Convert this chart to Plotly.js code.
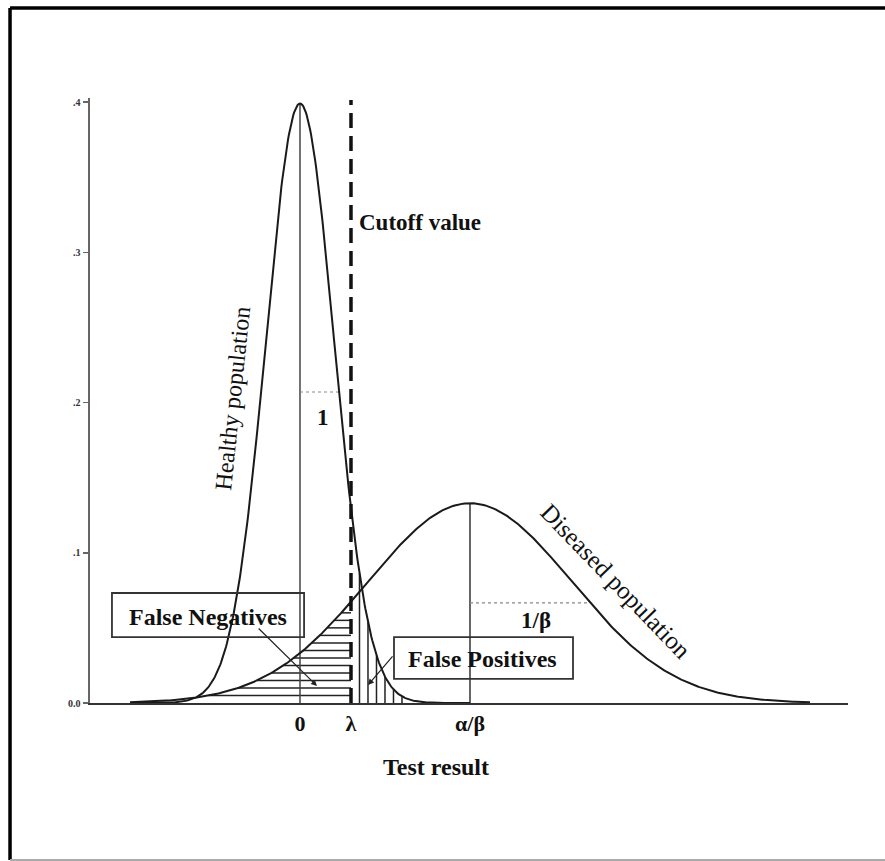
<!DOCTYPE html>
<html>
<head>
<meta charset="utf-8">
<script src="https://cdn.plot.ly/plotly-3.0.1.min.js"></script>
<style>
  html, body { margin: 0; padding: 0; background: #fff; }
  #chart { width: 885px; height: 861px; }
</style>
</head>
<body>
<div id="chart"></div>
<script>
// Two Gaussian test-result distributions split by a cutoff value
const healthyMean = 0;
const healthySd = 1;
const diseasedMean = 5;      // alpha / beta
const diseasedSd = 3;        // 1 / beta
const cutoff = 1.5;          // lambda

const healthyRange = [-5, 5];
const diseasedRange = [-5, 15];

const xTickVals = [0, 1.5, 5];
const xTickText = ['0', 'λ', 'α/β'];
const yTickVals = [0, 0.1, 0.2, 0.3, 0.4];
const yTickText = ['0.0', '.1', '.2', '.3', '.4'];

// hatching: horizontal rungs (false negatives) and vertical rungs (false positives)
const fnLevels = [0.005, 0.010, 0.015, 0.020, 0.025, 0.030, 0.035, 0.040, 0.045, 0.050, 0.055, 0.060, 0.065];
const fpPositions = [1.75, 2.0, 2.25, 2.5, 2.75, 3.0];

// width markers
const healthyMarkLevel = 0.207;
const diseasedMarkLevel = 0.0667;
const cutoffTop = 0.4013;

const SQ2PI = Math.sqrt(2 * Math.PI);
function pdf(x, m, s) { return Math.exp(-0.5 * ((x - m) / s) ** 2) / (s * SQ2PI); }
function offset(y, s) { return s * Math.sqrt(-2 * Math.log(y * s * SQ2PI)); }

function curve(m, s, r) {
  const xs = [], ys = [];
  for (let i = 0; i <= 400; i++) {
    const x = r[0] + (r[1] - r[0]) * i / 400;
    xs.push(x); ys.push(pdf(x, m, s));
  }
  return { xs, ys };
}

const h = curve(healthyMean, healthySd, healthyRange);
const d = curve(diseasedMean, diseasedSd, diseasedRange);

const ink = '#1a1a1a';

const fnX = [], fnY = [];
fnLevels.forEach(y => {
  fnX.push(diseasedMean - offset(y, diseasedSd), cutoff, null);
  fnY.push(y, y, null);
});
const fpX = [], fpY = [];
fpPositions.forEach(x => {
  fpX.push(x, x, null);
  fpY.push(0, pdf(x, healthyMean, healthySd), null);
});

const healthyPeak = pdf(healthyMean, healthyMean, healthySd);
const diseasedPeak = pdf(diseasedMean, diseasedMean, diseasedSd);

const traces = [
  { x: fnX, y: fnY, mode: 'lines', line: { color: '#222', width: 1.5 } },
  { x: fpX, y: fpY, mode: 'lines', line: { color: '#222', width: 1.5 } },
  { x: [healthyMean, healthyMean], y: [0, healthyPeak], mode: 'lines', line: { color: '#444', width: 1.5 } },
  { x: [diseasedMean, diseasedMean], y: [0, diseasedPeak], mode: 'lines', line: { color: '#333', width: 1.5 } },
  { x: [healthyMean, healthyMean + offset(healthyMarkLevel, healthySd)], y: [healthyMarkLevel, healthyMarkLevel],
    mode: 'lines', line: { color: '#888', width: 1.2, dash: 'dot' } },
  { x: [diseasedMean, diseasedMean + offset(diseasedMarkLevel, diseasedSd)], y: [diseasedMarkLevel, diseasedMarkLevel],
    mode: 'lines', line: { color: '#888', width: 1.2, dash: 'dot' } },
  { x: h.xs, y: h.ys, mode: 'lines', line: { color: ink, width: 2 } },
  { x: d.xs, y: d.ys, mode: 'lines', line: { color: ink, width: 2 } },
  { x: [cutoff, cutoff], y: [0, cutoffTop], mode: 'lines', line: { color: '#111', width: 3.5, dash: '15px,8px' } }
];

const serif = 'Liberation Serif, Times New Roman, serif';

function label(text, x, y, size, bold, extra) {
  return Object.assign({
    text: bold ? '<b>' + text + '</b>' : text,
    x: x, y: y, xref: 'x', yref: 'y', showarrow: false,
    font: { family: serif, size: size, color: '#111' }
  }, extra || {});
}

const annotations = [
  label('Cutoff value', 1.68, 0.3195, 23, true, { xanchor: 'left' }),
  label('Healthy population', -1.98, 0.203, 24, false, { textangle: -84 }),
  label('Diseased population', 9.3, 0.081, 25, false, { textangle: 46 }),
  label('1', 0.68, 0.190, 23, true),
  label('1/β', 6.94, 0.0546, 23, true),
  label('False Negatives', -2.7, 0.0575, 24, true),
  label('False Positives', 5.38, 0.0292, 24, true),
  { text: '', x: 0.5, y: 0.0113, ax: -1.26, ay: 0.0506, xref: 'x', yref: 'y', axref: 'x', ayref: 'y',
    showarrow: true, arrowhead: 2, arrowsize: 1, arrowwidth: 1.2, arrowcolor: '#222' },
  { text: '', x: 2.0, y: 0.012, ax: 2.76, ay: 0.032, xref: 'x', yref: 'y', axref: 'x', ayref: 'y',
    showarrow: true, arrowhead: 2, arrowsize: 1, arrowwidth: 1.2, arrowcolor: '#222' },
  { text: '<b>Test result</b>', x: 0.4565, y: -0.1058, xref: 'paper', yref: 'paper', showarrow: false,
    xanchor: 'center', yanchor: 'middle',
    font: { family: serif, size: 24, color: '#111' } }
];

const shapes = [
  // label boxes
  { type: 'rect', xref: 'x', yref: 'y', x0: -5.53, x1: 0.12, y0: 0.0439, y1: 0.0732,
    line: { color: '#333', width: 1.8 } },
  { type: 'rect', xref: 'x', yref: 'y', x0: 2.765, x1: 8.03, y0: 0.016, y1: 0.0439,
    line: { color: '#333', width: 1.8 } },
  // page frame
  { type: 'line', xref: 'paper', yref: 'paper', x0: -0.1055, x1: 1.06, y0: 1.1488, y1: 1.1488,
    line: { color: '#000', width: 3.5 } },
  { type: 'line', xref: 'paper', yref: 'paper', x0: -0.1055, x1: -0.1055, y0: 1.1488, y1: -0.2595,
    line: { color: '#000', width: 3.5 } },
  { type: 'line', xref: 'paper', yref: 'paper', x0: -0.1055, x1: 1.06, y0: -0.2595, y1: -0.2595,
    line: { color: '#aaa', width: 2 } }
];

const layout = {
  width: 885, height: 861,
  margin: { l: 90, r: 37, t: 98, b: 158 },
  paper_bgcolor: '#fff', plot_bgcolor: '#fff',
  showlegend: false,
  xaxis: {
    range: [-6.176, 16.118], showline: true, linecolor: '#333', linewidth: 2,
    showgrid: false, zeroline: false, ticks: '',
    tickvals: xTickVals, ticktext: xTickText.map(t => '<b>' + t + '</b>'),
    tickfont: { family: serif, size: 22, color: '#111' }
  },
  yaxis: {
    range: [0, 0.40266], showline: true, linecolor: '#666', linewidth: 2.5,
    showgrid: false, zeroline: false, ticks: 'outside', ticklen: 5, tickcolor: '#666', tickwidth: 1.5,
    tickvals: yTickVals, ticktext: yTickText.map(t => '<b>' + t + '</b>'),
    tickfont: { family: serif, size: 10, color: '#333' }
  },
  annotations: annotations,
  shapes: shapes
};

Plotly.newPlot('chart', traces, layout, { displayModeBar: false, staticPlot: true });
</script>
</body>
</html>
